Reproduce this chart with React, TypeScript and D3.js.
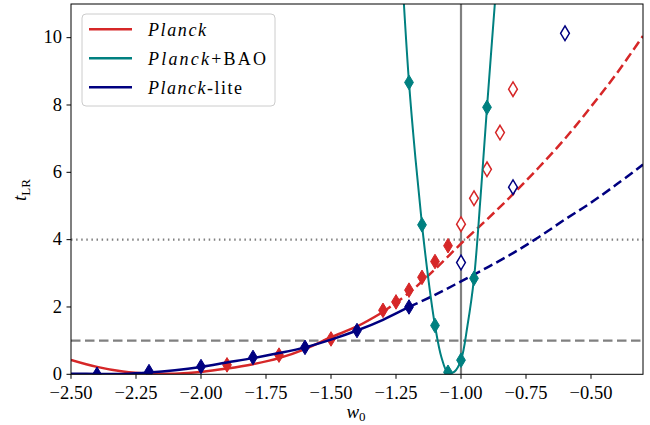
import React from 'react';
import * as d3 from 'd3';

// Planck fit (solid up to -1.3, dashed beyond)
const planckLineW = [-2.5, -2.4, -2.3, -2.2, -2.1, -2.0, -1.9, -1.8, -1.7, -1.6, -1.5, -1.4, -1.3];
const planckLineT = [0.43, 0.22, 0.08, 0.02, 0.02, 0.07, 0.17, 0.3, 0.48, 0.75, 1.1, 1.42, 1.85];
const planckDashW = [-1.3, -1.2, -1.1, -1.0, -0.9, -0.8, -0.7, -0.6, -0.5, -0.4, -0.3];
const planckDashT = [1.85, 2.42, 3.12, 3.88, 4.6, 5.35, 6.15, 7.0, 7.95, 8.95, 10.05];
const planckPtsW = [-1.9, -1.7, -1.5, -1.3, -1.25, -1.2, -1.15, -1.1, -1.05];
const planckPtsT = [0.28, 0.57, 1.05, 1.9, 2.15, 2.5, 2.88, 3.35, 3.82];
const planckOpenW = [-1.0, -0.95, -0.9, -0.85, -0.8];
const planckOpenT = [4.46, 5.23, 6.09, 7.18, 8.47];

// Planck+BAO
const baoLineW = [-1.225, -1.2, -1.175, -1.15, -1.125, -1.1, -1.075, -1.05, -1.025, -1.0, -0.975, -0.95, -0.925, -0.9, -0.865];
const baoLineT = [11.7, 8.67, 6.4, 4.44, 2.8, 1.45, 0.5, 0.04, 0.08, 0.42, 1.45, 2.85, 5.25, 7.93, 11.5];
const baoPtsW = [-1.2, -1.15, -1.1, -1.05, -1.0, -0.95, -0.9];
const baoPtsT = [8.67, 4.44, 1.45, 0.06, 0.42, 2.85, 7.93];

// Planck-lite
const liteLineW = [-2.5, -2.4, -2.3, -2.2, -2.1, -2.0, -1.9, -1.8, -1.7, -1.6, -1.5, -1.4, -1.3, -1.2];
const liteLineT = [0.02, 0.01, 0.01, 0.05, 0.12, 0.22, 0.35, 0.48, 0.63, 0.8, 1.03, 1.3, 1.62, 2.0];
const liteDashW = [-1.2, -1.1, -1.0, -0.9, -0.8, -0.7, -0.6, -0.5, -0.4, -0.3];
const liteDashT = [2.0, 2.36, 2.76, 3.17, 3.6, 4.08, 4.6, 5.1, 5.65, 6.23];
const litePtsW = [-2.4, -2.2, -2.0, -1.8, -1.6, -1.4, -1.2];
const litePtsT = [0.0, 0.08, 0.23, 0.5, 0.8, 1.3, 2.0];
const liteOpenW = [-1.0, -0.8, -0.6];
const liteOpenT = [3.32, 5.56, 10.13];

const xTicks = [-2.5, -2.25, -2.0, -1.75, -1.5, -1.25, -1.0, -0.75, -0.5];
const yTicks = [0, 2, 4, 6, 8, 10];
const hLines = [1, 4];

const RED = '#d62728';
const TEAL = '#008080';
const NAVY = '#000080';
const GRAY = '#808080';
const FONT = '"Liberation Serif", "Times New Roman", serif';

const W = 650, H = 425;
const L = 71, R = 643, T = 4, B = 374.3;

const x = d3.scaleLinear().domain([-2.5, -0.3]).range([L, R]);
const y = d3.scaleLinear().domain([0, 11]).range([B, T]);

const zip = (ws: number[], ts: number[]) => ws.map((w, i) => [w, ts[i]] as [number, number]);
const line = d3.line<[number, number]>().x(d => x(d[0])).y(d => y(d[1])).curve(d3.curveCatmullRom);
const diamond = 'M0,-7.3L4.4,0L0,7.3L-4.4,0Z';
const fmt = (v: number) => (v < 0 ? '\u2212' : '') + Math.abs(v).toFixed(2);

const Markers = ({ ws, ts, color, open }: { ws: number[]; ts: number[]; color: string; open?: boolean }) => (
  <g>
    {zip(ws, ts).map((d, i) => (
      <path key={i} d={diamond} transform={`translate(${x(d[0])},${y(d[1])})`}
        fill={open ? 'white' : color} stroke={color} strokeWidth={open ? 1.5 : 1} />
    ))}
  </g>
);

const legendItems = [
  { color: RED, it: 'Planck', rest: '', len: 58 },
  { color: TEAL, it: 'Planck', rest: '+BAO', len: 118 },
  { color: NAVY, it: 'Planck', rest: '-lite', len: 94 },
];

export default function App() {
  return (
    <svg width={W} height={H} style={{ position: 'absolute', left: 0, top: 0, background: 'white' }} fontFamily={FONT}>
      <defs>
        <clipPath id="plot"><rect x={L} y={T} width={R - L} height={B - T} /></clipPath>
      </defs>
      <g clipPath="url(#plot)">
        <line x1={L} x2={R} y1={y(hLines[1])} y2={y(hLines[1])} stroke={GRAY} strokeWidth={2.2} strokeDasharray="1.5,3.6" />
        <line x1={L} x2={R} y1={y(hLines[0])} y2={y(hLines[0])} stroke={GRAY} strokeWidth={2.2} strokeDasharray="9.5,4.5" />
        <line x1={x(-1)} x2={x(-1)} y1={T} y2={B} stroke={GRAY} strokeWidth={2.2} />

        <path d={line(zip(planckLineW, planckLineT)) || ''} fill="none" stroke={RED} strokeWidth={2.5} />
        <path d={line(zip(planckDashW, planckDashT)) || ''} fill="none" stroke={RED} strokeWidth={2.5} strokeDasharray="9.5,4.5" />
        <Markers ws={planckPtsW} ts={planckPtsT} color={RED} />
        <Markers ws={planckOpenW} ts={planckOpenT} color={RED} open />

        <path d={line(zip(liteLineW, liteLineT)) || ''} fill="none" stroke={NAVY} strokeWidth={2.5} />
        <path d={line(zip(liteDashW, liteDashT)) || ''} fill="none" stroke={NAVY} strokeWidth={2.5} strokeDasharray="9.5,4.5" />
        <Markers ws={litePtsW} ts={litePtsT} color={NAVY} />
        <Markers ws={liteOpenW} ts={liteOpenT} color={NAVY} open />

        <path d={line(zip(baoLineW, baoLineT)) || ''} fill="none" stroke={TEAL} strokeWidth={2} />
        <Markers ws={baoPtsW} ts={baoPtsT} color={TEAL} />
      </g>

      <rect x={L} y={T} width={R - L} height={B - T} fill="none" stroke="black" strokeWidth={1} />

      {xTicks.map(t => (
        <g key={t} transform={`translate(${x(t)},${B})`}>
          <line y1={0} y2={4.5} stroke="black" strokeWidth={1} />
          <text y={25} textAnchor="middle" fontSize={18.5}>{fmt(t)}</text>
        </g>
      ))}
      {yTicks.map(t => (
        <g key={t} transform={`translate(${L},${y(t)})`}>
          <line x1={0} x2={-4.5} stroke="black" strokeWidth={1} />
          <text x={-9} dy="0.3em" textAnchor="end" fontSize={18.5}>{t}</text>
        </g>
      ))}

      <text x={356} y={418} textAnchor="middle" fontSize={19}>
        <tspan fontStyle="italic">w</tspan><tspan fontSize={13} dy={3}>0</tspan>
      </text>
      <text transform="translate(26,190) rotate(-90)" textAnchor="middle" fontSize={19}>
        <tspan fontStyle="italic">t</tspan><tspan fontSize={13} dy={4}>LR</tspan>
      </text>

      <rect x={82} y={14} width={193} height={92} rx={4} fill="white" fillOpacity={0.8} stroke="#cccccc" strokeWidth={1} />
      {legendItems.map((d, i) => (
        <g key={i} transform={`translate(0,${29.3 + i * 29})`}>
          <line x1={89} x2={132} stroke={d.color} strokeWidth={2.5} />
          <text x={148} y={7} fontSize={18} textLength={d.len} lengthAdjust="spacing">
            <tspan fontStyle="italic">{d.it}</tspan>{d.rest}
          </text>
        </g>
      ))}
    </svg>
  );
}
